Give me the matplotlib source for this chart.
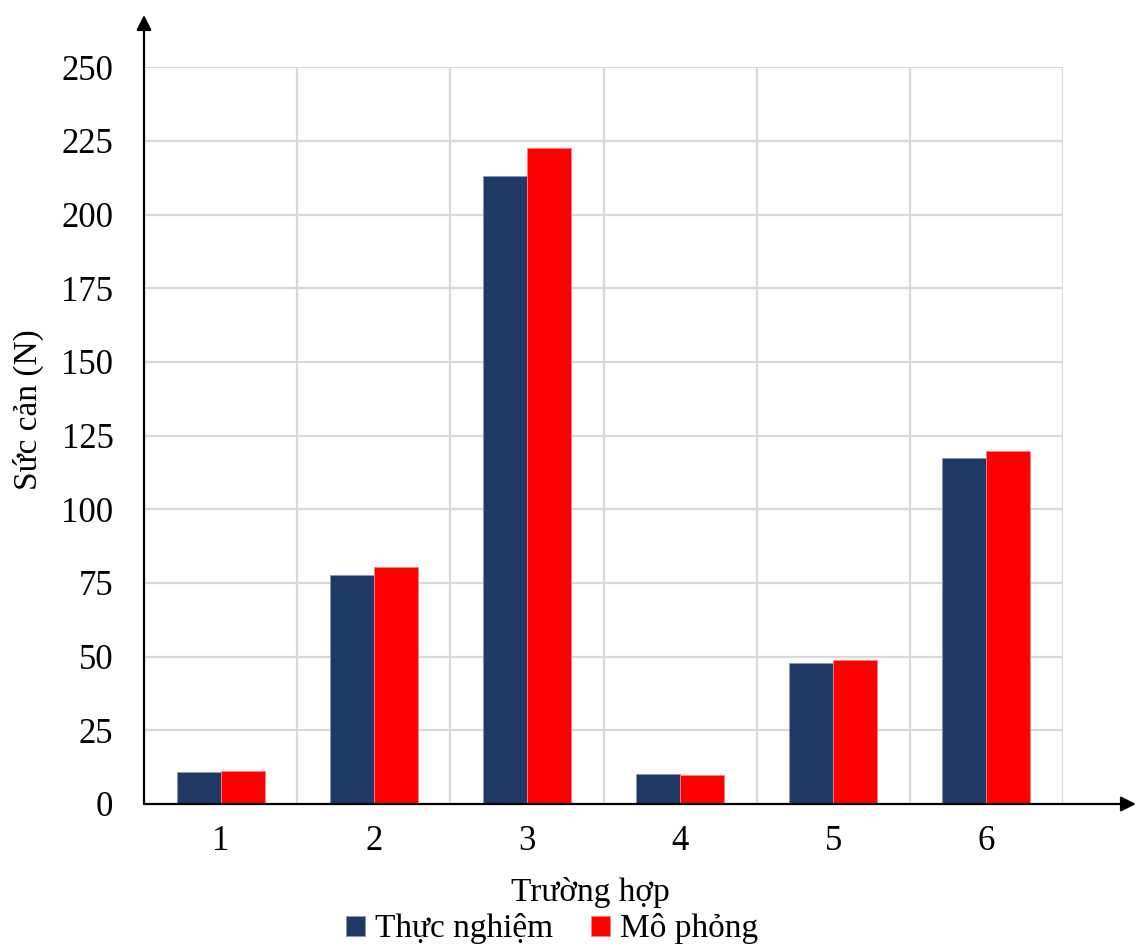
import matplotlib
matplotlib.use("Agg")
import matplotlib.pyplot as plt
import numpy as np

# Drag force per case: experiment vs. simulation
cases = ["1", "2", "3", "4", "5", "6"]
thuc_nghiem = [10.8, 77.7, 213.2, 10.2, 47.8, 117.5]
mo_phong = [11.1, 80.5, 222.5, 9.8, 48.9, 119.9]
y_ticks = [0, 25, 50, 75, 100, 125, 150, 175, 200, 225, 250]

plt.rcParams["font.family"] = ["Liberation Serif", "DejaVu Serif"]

W, H = 1136, 949
fig = plt.figure(figsize=(W / 100, H / 100), dpi=100)
x0, x1, y0, y1 = 144, 1063, 804, 67.3
ax = fig.add_axes([x0 / W, 1 - y0 / H, (x1 - x0) / W, (y0 - y1) / H])

x = np.arange(len(cases))
bw = 0.2876
navy = "#203864"
red = "#ff0000"
b1 = ax.bar(x - bw / 2, thuc_nghiem, bw, color=navy, edgecolor="#8a97b0",
            linewidth=0.6, label="Thực nghiệm", zorder=3)
b2 = ax.bar(x + bw / 2, mo_phong, bw, color=red, edgecolor="#ff8080",
            linewidth=0.6, label="Mô phỏng", zorder=3)

ax.set_xlim(-0.5, len(cases) - 0.5)
ax.set_ylim(0, 250)
ax.set_yticks(y_ticks)
ax.set_yticklabels([str(v) for v in y_ticks], fontsize=25)
ax.set_xticks(x)
ax.set_xticklabels(cases, fontsize=25)
ax.tick_params(axis="y", length=0, pad=22)
ax.tick_params(axis="x", length=0, pad=15)

# grid: horizontal at ticks, vertical at category boundaries
for v in y_ticks[1:]:
    ax.axhline(v, color="#d9d9d9", lw=1.6, zorder=1)
for b in np.arange(0.5, len(cases), 1.0):
    ax.axvline(b, color="#d9d9d9", lw=1.6, zorder=1)

for s in ax.spines.values():
    s.set_visible(False)

# axes drawn as arrows
arrow = dict(arrowstyle="-|>,head_length=0.9,head_width=0.45", color="black",
             lw=1.6, shrinkA=0, shrinkB=0)
ax.annotate("", xy=(0, (y0 - 15) / (y0 - y1)), xytext=(0, 0),
            xycoords="axes fraction", arrowprops=arrow, annotation_clip=False)
ax.annotate("", xy=((1136 - x0) / (x1 - x0), 0), xytext=(0, 0),
            xycoords="axes fraction", arrowprops=arrow, annotation_clip=False)

fig.text(28 / W, 1 - 410 / H, "Sức cản (N)", rotation=90, fontsize=24,
         ha="center", va="center")
fig.text(590 / W, 1 - 892 / H, "Trường hợp", fontsize=24,
         ha="center", va="center")

fig.legend(handles=[b1, b2], loc="center", bbox_to_anchor=(552 / W, 1 - 929 / H),
           ncol=2, frameon=False, fontsize=24, handlelength=0.55,
           handleheight=0.55, handletextpad=0.3, columnspacing=1.15,
           borderpad=0)

fig.savefig("out.png", dpi=100)
